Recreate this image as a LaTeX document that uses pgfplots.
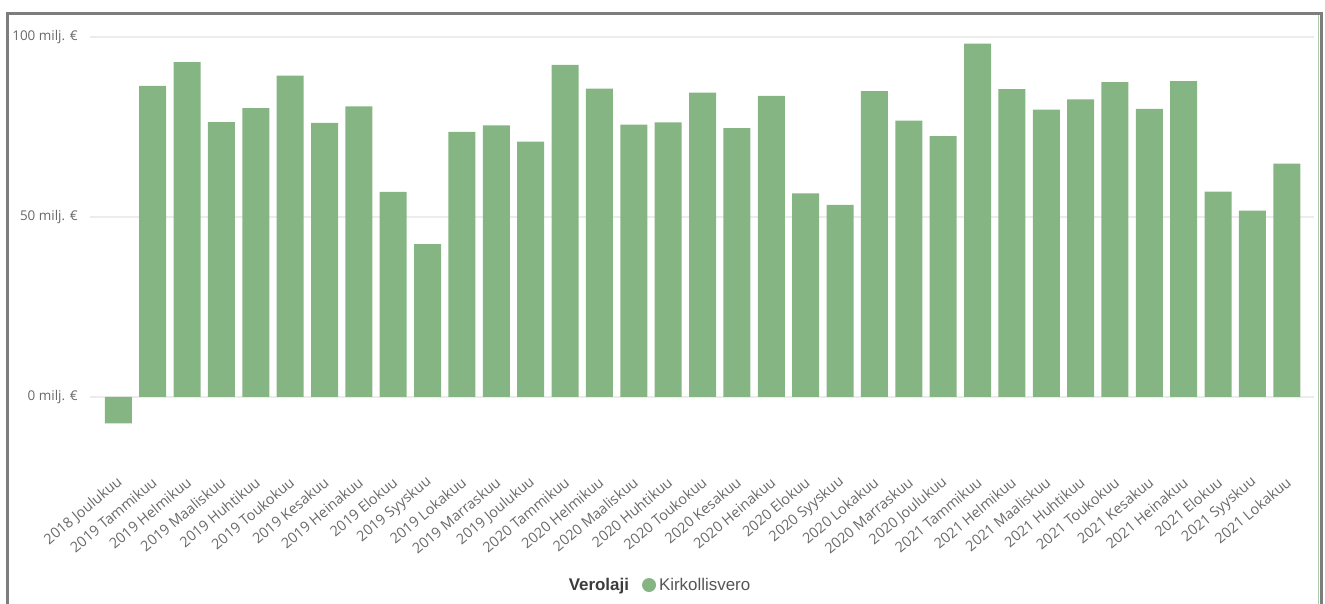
\documentclass[border=0pt]{standalone}
\usepackage{pgfplots}
\pgfplotsset{compat=1.18}
\usepackage{fontspec}
\setmainfont{Open Sans}
\newfontfamily\legfont{Liberation Sans}
\definecolor{barg}{RGB}{134,181,132}
\definecolor{tickc}{RGB}{105,105,105}
\definecolor{gridc}{RGB}{236,236,236}
\definecolor{framec}{RGB}{125,125,125}
\definecolor{legc}{RGB}{85,85,85}
\definecolor{legtc}{RGB}{60,60,60}
\begin{document}
\begin{tikzpicture}[x=1bp,y=1bp]
\path[use as bounding box] (0,0) rectangle (1325,-604);
\begin{axis}[
  at={(90bp,-465.2bp)}, anchor=south west,
  scale only axis, width=1224.3bp, height=446.4bp,
  xmin=-0.823, xmax=34.8, ymin=-19, ymax=105,
  axis line style={draw=none},
  tick style={draw=none}, major tick length=0pt,
  ytick={0,50,100},
  yticklabels={0 milj. €,50 milj. €,100 milj. €},
  ymajorgrids, grid style={gridc, line width=1.5bp},
  yticklabel style={inner sep=0pt, anchor=east, xshift=-12bp, text=tickc, font=\fontsize{13.5}{13.5}\selectfont},
  xtick={0,...,34},
  xticklabels={2018 Joulukuu,2019 Tammikuu,2019 Helmikuu,2019 Maaliskuu,2019 Huhtikuu,2019 Toukokuu,2019 Kesakuu,2019 Heinakuu,2019 Elokuu,2019 Syyskuu,2019 Lokakuu,2019 Marraskuu,2019 Joulukuu,2020 Tammikuu,2020 Helmikuu,2020 Maaliskuu,2020 Huhtikuu,2020 Toukokuu,2020 Kesakuu,2020 Heinakuu,2020 Elokuu,2020 Syyskuu,2020 Lokakuu,2020 Marraskuu,2020 Joulukuu,2021 Tammikuu,2021 Helmikuu,2021 Maaliskuu,2021 Huhtikuu,2021 Toukokuu,2021 Kesakuu,2021 Heinakuu,2021 Elokuu,2021 Syyskuu,2021 Lokakuu},
  xticklabel style={yshift=-15bp, xshift=2bp, rotate=40, anchor=east, inner sep=0pt, text=tickc, font=\fontsize{14.5}{14.5}\selectfont},
  ybar, bar width=27bp,
  legend columns=-1,
  legend style={at={(0.4652,-0.2684)}, anchor=center, draw=none, fill=none, inner sep=0pt,
    font=\legfont\fontsize{17}{17}\selectfont, nodes={inner sep=0pt},
    /tikz/every even column/.append style={column sep=0pt}},
]
\addlegendimage{empty legend}
\addlegendentry{\textcolor{legtc}{\textbf{Verolaji}}}
\addplot[fill=barg, draw=none,
  legend image code/.code={\path (-20bp,0) (10bp,0); \fill[barg] (0,0) circle (7bp);}]
coordinates {
(0,-7.4) (1,86.4) (2,93.0) (3,76.3) (4,80.2) (5,89.2) (6,76.1) (7,80.7) (8,56.9) (9,42.4)
(10,73.6) (11,75.4) (12,70.9) (13,92.2) (14,85.6) (15,75.6) (16,76.2) (17,84.5) (18,74.6) (19,83.6)
(20,56.5) (21,53.3) (22,84.9) (23,76.7) (24,72.4) (25,98.1) (26,85.5) (27,79.8) (28,82.6) (29,87.4)
(30,80.0) (31,87.7) (32,57.0) (33,51.7) (34,64.8)
};
\addlegendentry{\textcolor{legc}{Kirkollisvero}}
\end{axis}
\draw[framec, line width=3bp] (7,-700) -- (7,-13.5) -- (1321,-13.5) -- (1321,-700);
\draw[barg!70, line width=1bp] (1318.5,-15) -- (1318.5,-700);
\end{tikzpicture}
\end{document}
